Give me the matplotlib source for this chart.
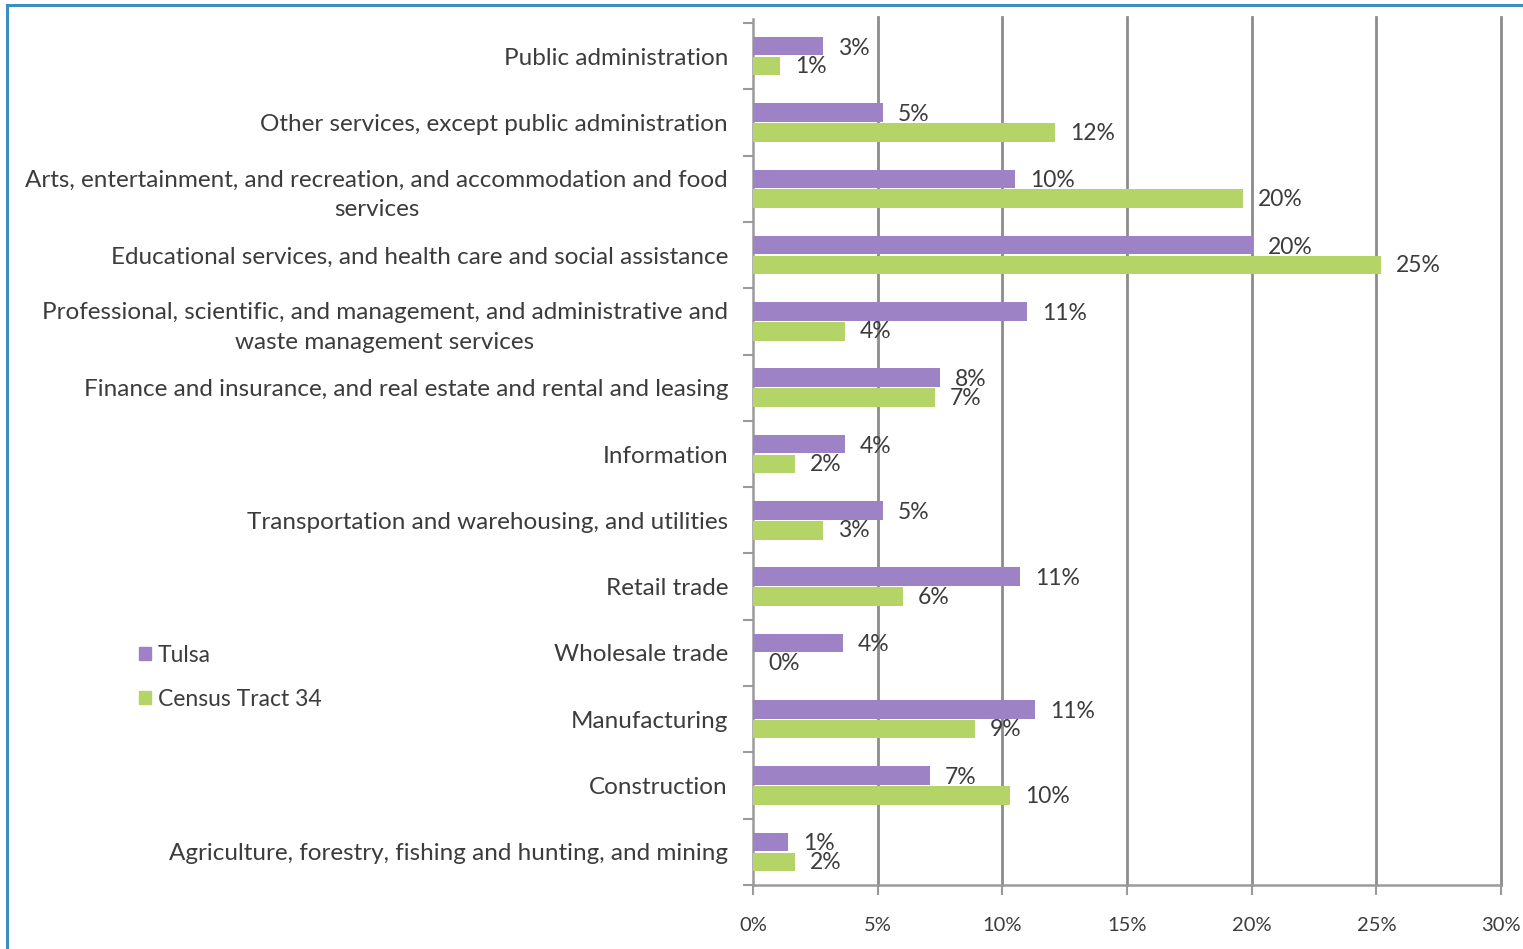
import numpy as np
import matplotlib.pyplot as plt
from matplotlib.lines import Line2D
from matplotlib.patches import Patch

# Industry categories, bottom to top
categorias = [
    'Agriculture, forestry, fishing and hunting, and mining',
    'Construction',
    'Manufacturing',
    'Wholesale trade',
    'Retail trade',
    'Transportation and warehousing, and utilities',
    'Information',
    'Finance and insurance, and real estate and rental and leasing',
    'Professional, scientific, and management, and administrative and\nwaste management services',
    'Educational services, and health care and social assistance',
    'Arts, entertainment, and recreation, and accommodation and food\nservices',
    'Other services, except public administration',
    'Public administration',
]

# Share of employed population (%)
tulsa = [1.4, 7.1, 11.3, 3.6, 10.7, 5.2, 3.7, 7.5, 11.0, 20.05, 10.5, 5.2, 2.8]
census_34 = [1.7, 10.3, 8.9, 0.0, 6.0, 2.8, 1.7, 7.3, 3.7, 25.2, 19.65, 12.1, 1.1]

xticks = [0, 5, 10, 15, 20, 25, 30]

cor_tulsa = '#9d82c6'
cor_census = '#b4d468'
cor_texto = '#3c3c3c'

plt.rcParams['font.family'] = ['Lato', 'DejaVu Sans']

fig = plt.figure(figsize=(15.23, 9.49), dpi=100)
ax = fig.add_axes([753 / 1523, 1 - 885 / 949, 748 / 1523, 862 / 949])

y = np.arange(len(categorias))
altura = 0.28

ax.barh(y + altura / 2 + 0.01, tulsa, height=altura, color=cor_tulsa, zorder=3)
ax.barh(y - altura / 2 - 0.01, census_34, height=altura, color=cor_census, zorder=3)

# value labels just past the end of each bar
for i in range(len(categorias)):
    ax.text(tulsa[i] + 0.6, y[i] + altura / 2 - 0.02, f'{tulsa[i]:.0f}%',
            va='center', ha='left', fontsize=16.5, color=cor_texto, zorder=4)
    ax.text(census_34[i] + 0.6, y[i] - altura / 2 - 0.02, f'{census_34[i]:.0f}%',
            va='center', ha='left', fontsize=16.5, color=cor_texto, zorder=4)

ax.set_xlim(0, 30)
ax.set_ylim(-0.5, len(categorias) - 0.5)
ax.set_xticks(xticks)
ax.set_xticklabels([f'{v}%' for v in xticks], fontsize=14.5, color=cor_texto)
ax.set_yticks(y)
ax.set_yticklabels(categorias, fontsize=17.5, color=cor_texto, multialignment='center',
                   linespacing=1.5)
ax.set_yticks(np.arange(len(categorias) + 1) - 0.5, minor=True)

ax.tick_params(axis='y', which='major', length=0, pad=18)
ax.tick_params(axis='y', which='minor', length=7, color='#9a9a9a', width=1.5)
ax.tick_params(axis='x', length=7, color='#9a9a9a', width=1.5, pad=16)

for v in xticks[1:]:
    ax.axvline(v, ymax=1.007, color='#8c8c8c', lw=2, zorder=1, clip_on=False)

for lado in ['top', 'right']:
    ax.spines[lado].set_visible(False)
ax.spines['left'].set_color('#9a9a9a')
ax.spines['left'].set_linewidth(1.8)
ax.spines['left'].set_bounds(-0.5, len(categorias) - 0.44)
ax.spines['bottom'].set_color('#9a9a9a')
ax.spines['bottom'].set_linewidth(1.8)

# legend on the left side
handles = [Patch(color=cor_tulsa, label='Tulsa'), Patch(color=cor_census, label='Census Tract 34')]
leg = fig.legend(handles=handles, loc='upper left', bbox_to_anchor=(118 / 1523, 1 - 624 / 949),
                 frameon=False, fontsize=16.5, handlelength=0.55, handleheight=0.55,
                 handletextpad=0.3, labelspacing=1.0, labelcolor=cor_texto)

# blue frame around the figure
fig.add_artist(Line2D([7 / 1523, 1], [1 - 5 / 949, 1 - 5 / 949], color='#3a8fc0', lw=2.2))
fig.add_artist(Line2D([7 / 1523, 7 / 1523], [0, 1 - 5 / 949], color='#3a8fc0', lw=2.2))

fig.savefig('out.png', dpi=100, facecolor='white')
